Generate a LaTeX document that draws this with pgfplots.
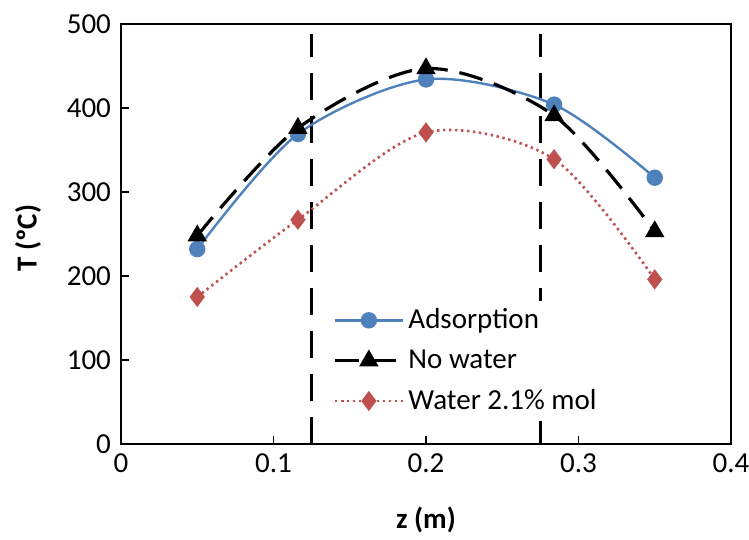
\documentclass[border=0pt]{standalone}
\usepackage{pgfplots}
\pgfplotsset{compat=1.18}
\usepackage{fontspec}
\setmainfont{Carlito}
\definecolor{exblue}{HTML}{4F81BD}
\definecolor{exred}{HTML}{C0504D}
\begin{document}
\begin{tikzpicture}
\begin{axis}[
  name=ax, scale only axis, width=305pt, height=210pt,
  xmin=0, xmax=0.4, ymin=0, ymax=500,
  xtick={0,0.1,0.2,0.3,0.4}, ytick={0,100,200,300,400,500},
  xticklabels={0,0.1,0.2,0.3,0.4},
  axis line style={line width=0.9pt}, tick style={black, line width=0.9pt},
  tick align=inside, major tick length=4pt,
  xtick pos=bottom, ytick pos=left,
  font=\fontsize{14.5}{17}\selectfont,
  /pgf/number format/assume math mode=true,
  yticklabel style={xshift=-1.5pt},
  xticklabel style={yshift=-1.5pt},
  every axis x label/.style={at={(axis description cs:0.5,0)}, anchor=center, yshift=-38pt},
  every axis y label/.style={at={(axis description cs:0,0.49)}, anchor=center, xshift=-46.5pt, rotate=90},
  xlabel={\textbf{z (m)}}, ylabel={\textbf{T (ºC)}},
  legend style={at={(axis cs:0.135,171)}, anchor=north west, draw=none, fill=white,
    font=\fontsize{14.5}{17}\selectfont, row sep=5pt},
  legend cell align=left,
  legend image code/.code={\draw[mark repeat=2,mark phase=2] plot coordinates {(0pt,0pt) (17pt,0pt) (34pt,0pt)};},
]
\addplot[black, line width=1.6pt, dash pattern=on 13.5pt off 8pt, forget plot] coordinates {(0.125,0) (0.125,488)};
\addplot[black, line width=1.6pt, dash pattern=on 13.5pt off 8pt, forget plot] coordinates {(0.275,0) (0.275,488)};
\addplot[exblue, line width=1.2pt, smooth, mark=*, mark size=3.5pt, mark options={solid}]
  coordinates {(0.05,232) (0.116,369) (0.2,434) (0.284,404) (0.35,317)};
\addlegendentry{Adsorption}
\addplot[black, line width=1.6pt, smooth, dash pattern=on 12pt off 6pt, mark=triangle*, mark size=4pt, mark options={solid}]
  coordinates {(0.05,248) (0.116,376) (0.2,447) (0.284,391) (0.35,253)};
\addlegendentry{No water}
\addplot[exred, line width=1.3pt, smooth, dash pattern=on 1.2pt off 1.8pt, mark=diamond*, mark size=4pt, mark options={solid}]
  coordinates {(0.05,175) (0.116,267) (0.2,371) (0.284,339) (0.35,196)};
\addlegendentry{Water 2.1\% mol}
\end{axis}
\pgfresetboundingbox
\path[use as bounding box] ([shift={(-60.5pt,-48pt)}]ax.south west) rectangle ([shift={(9pt,12pt)}]ax.north east);
\end{tikzpicture}
\end{document}
